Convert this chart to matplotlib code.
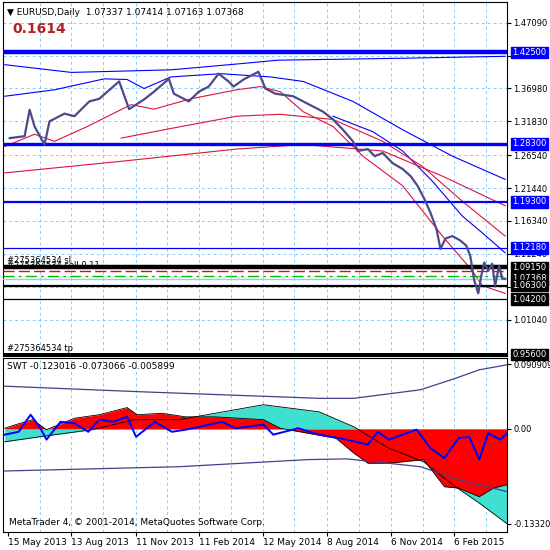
import matplotlib
matplotlib.use("Agg")
import matplotlib.pyplot as plt
from matplotlib.transforms import blended_transform_factory

# ---------------- data (x in bar-position units, 0..505) ----------------
price_x = [5, 20, 25, 30, 40, 45, 60, 70, 85, 95, 115, 125, 140, 150, 165, 170, 185, 195,
           205, 215, 225, 230, 240, 255, 262, 272, 290, 300, 310, 320, 330, 340, 350, 355,
           365, 372, 380, 390, 400, 408, 415, 422, 428, 434, 438, 443, 450, 458, 464, 468,
           472, 476, 479, 482, 486, 490, 493, 497, 500, 503]
price_y = [1.292, 1.295, 1.336, 1.310, 1.282, 1.318, 1.330, 1.326, 1.349, 1.353, 1.380, 1.337,
           1.352, 1.364, 1.384, 1.361, 1.349, 1.364, 1.372, 1.392, 1.380, 1.372, 1.383, 1.395,
           1.369, 1.361, 1.357, 1.349, 1.341, 1.333, 1.321, 1.305, 1.287, 1.272, 1.275, 1.264,
           1.269, 1.253, 1.244, 1.233, 1.218, 1.197, 1.176, 1.151, 1.120, 1.136, 1.140, 1.133,
           1.125, 1.109, 1.071, 1.051, 1.078, 1.099, 1.086, 1.097, 1.063, 1.094, 1.074, 1.0737]

blue_long_x = [0, 67, 167, 233, 275, 400, 503]
blue_long_y = [1.406, 1.394, 1.398, 1.407, 1.413, 1.416, 1.419]
blue_mid_x = [0, 50, 100, 123, 140, 167, 217, 267, 300, 350, 400, 450, 503]
blue_mid_y = [1.357, 1.367, 1.384, 1.383, 1.369, 1.387, 1.392, 1.387, 1.380, 1.349, 1.305, 1.264, 1.228]
blue_short_x = [330, 370, 400, 430, 460, 480, 503]
blue_short_y = [1.326, 1.302, 1.272, 1.225, 1.171, 1.145, 1.114]
red_mid_x = [0, 30, 50, 83, 127, 150, 187, 233, 257, 277, 300, 330, 360, 400, 440, 470, 480, 503]
red_mid_y = [1.279, 1.298, 1.287, 1.310, 1.344, 1.337, 1.353, 1.367, 1.372, 1.364, 1.333, 1.310, 1.264, 1.218, 1.140, 1.086, 1.063, 1.051]
red_long_x = [117, 167, 233, 277, 330, 380, 420, 460, 503]
red_long_y = [1.292, 1.307, 1.326, 1.329, 1.321, 1.287, 1.248, 1.194, 1.140]
red_lower_x = [0, 117, 233, 300, 380, 440, 503]
red_lower_y = [1.238, 1.256, 1.275, 1.282, 1.272, 1.233, 1.187]

# horizontal order / level lines
lv_blue = [1.4250, 1.2830, 1.1930, 1.1218]
lv_blue_w = [3.2, 2.4, 1.6, 0.9]
lv_black = [1.0915, 1.0630, 1.0420, 0.9560]
lv_black_w = [3.2, 1.6, 0.9, 3.6]
sell_level = 1.0862
green_level = 1.0785
bid = 1.07368

price_ticks = [1.4709, 1.4199, 1.3698, 1.3183, 1.2654, 1.2144, 1.1634, 1.1124, 1.0614, 1.0104]
price_labels = ["1.47090", "", "1.36980", "1.31830", "1.26540", "1.21440", "1.16340", "1.11240", "", "1.01040"]

# SWT indicator
swt_up_x = [0, 140, 316, 351, 418, 453, 477, 505]
swt_up_y = [0.060, 0.052, 0.043, 0.043, 0.055, 0.071, 0.083, 0.090]
swt_lo_x = [0, 175, 305, 344, 418, 456, 505]
swt_lo_y = [-0.059, -0.053, -0.043, -0.042, -0.053, -0.071, -0.088]
slow_x = [0, 35, 88, 130, 175, 260, 316, 351, 386, 421, 453, 477, 505]
slow_y = [-0.018, -0.011, -0.001, 0.013, 0.013, 0.034, 0.024, 0.003, -0.027, -0.046, -0.081, -0.104, -0.133]
fast_x = [0, 11, 28, 42, 70, 95, 123, 133, 158, 182, 211, 260, 277, 305, 333, 351, 365, 386,
          421, 442, 456, 477, 491, 505]
fast_y = [0.001, 0.006, 0.013, -0.001, 0.015, 0.020, 0.030, 0.020, 0.022, 0.017, 0.017, 0.013,
          0.001, -0.006, -0.013, -0.034, -0.048, -0.048, -0.043, -0.081, -0.083, -0.095, -0.083, -0.078]
osc_x = [0, 14, 26, 35, 42, 56, 70, 84, 95, 109, 123, 132, 151, 168, 182, 196, 218, 232, 260,
         270, 295, 316, 337, 365, 375, 386, 414, 428, 442, 456, 467, 477, 486, 498, 505]
osc_y = [-0.008, -0.004, 0.020, 0.003, -0.015, 0.010, 0.008, -0.004, 0.013, 0.010, 0.017, -0.011,
         0.010, -0.004, -0.001, 0.003, 0.010, 0.001, 0.006, -0.008, 0.001, -0.008, -0.013, -0.022,
         -0.004, -0.015, -0.001, -0.027, -0.041, -0.013, -0.011, -0.043, -0.006, -0.015, -0.006]

date_pos = [3, 67, 132, 195, 260, 324, 388, 452]
date_labels = ["15 May 2013", "13 Aug 2013", "11 Nov 2013", "11 Feb 2014",
               "12 May 2014", "8 Aug 2014", "6 Nov 2014", "6 Feb 2015"]
vgrid = [35, 67, 99, 132, 163, 195, 227, 260, 291, 324, 356, 388, 420, 452, 484]

GRID = "#87cefa"
fs = 6.0

fig = plt.figure(figsize=(5.5, 5.5), dpi=100)
ax = fig.add_axes([0.005, 0.353, 0.917, 0.643])
ax2 = fig.add_axes([0.005, 0.033, 0.917, 0.316], sharex=ax)

for a in (ax, ax2):
    a.set_xlim(-2, 505)
    for x in vgrid:
        a.axvline(x, color=GRID, ls=(0, (3, 3)), lw=0.7, zorder=0)
    a.yaxis.tick_right()
    a.tick_params(axis="y", labelsize=fs, length=3, pad=1.5)
    for s in a.spines.values():
        s.set_linewidth(0.8)

# ---------------- main price panel ----------------
ax.set_ylim(0.954, 1.503)
for y in price_ticks:
    ax.axhline(y, color=GRID, ls=(0, (3, 3)), lw=0.7, zorder=0)
ax.set_yticks(price_ticks)
ax.set_yticklabels(price_labels)
ax.tick_params(axis="x", bottom=False, labelbottom=False)

ax.plot(blue_long_x, blue_long_y, color="#0000ff", lw=0.8)
ax.plot(blue_mid_x, blue_mid_y, color="#0000ff", lw=0.8)
ax.plot(blue_short_x, blue_short_y, color="#0000ff", lw=0.8)
ax.plot(red_mid_x, red_mid_y, color="#dc143c", lw=0.8)
ax.plot(red_long_x, red_long_y, color="#dc143c", lw=0.8)
ax.plot(red_lower_x, red_lower_y, color="#dc143c", lw=0.8)
ax.plot(price_x, price_y, color="#4b4b8c", lw=1.6, zorder=4)

for y, w in zip(lv_blue, lv_blue_w):
    ax.axhline(y, color="#0000ff", lw=w, zorder=3)
for y, w in zip(lv_black, lv_black_w):
    ax.axhline(y, color="black", lw=w, zorder=3)
ax.axhline(sell_level, color="#ff0000", lw=1.0, ls=(0, (8, 3)), zorder=3)
ax.axhline(green_level, color="#00c000", lw=1.0, ls=(0, (8, 3, 2, 3)), zorder=3)
ax.axhline(bid, color="#87cefa", lw=1.0, zorder=3)

tr = blended_transform_factory(ax.transAxes, ax.transData)
boxes = [(1.4250, "1.42500", "#0000ff"), (1.2830, "1.28300", "#0000ff"),
         (1.1930, "1.19300", "#0000ff"), (1.1218, "1.12180", "#0000ff"),
         (1.0915, "1.09150", "black"), (1.07368, "1.07368", "black"),
         (1.0630, "1.06300", "black"), (1.0420, "1.04200", "black"),
         (0.9560, "0.95600", "black")]
for y, t, c in boxes:
    ax.text(1.01, y, t, transform=tr, fontsize=fs, color="white", va="center", ha="left",
            bbox=dict(boxstyle="square,pad=0.15", fc=c, ec=c), clip_on=False, zorder=6)

ax.text(0.008, 0.985, "▼ EURUSD,Daily  1.07337 1.07414 1.07163 1.07368",
        transform=ax.transAxes, fontsize=6.5, va="top")
ax.text(0.02, 0.945, "0.1614", transform=ax.transAxes, fontsize=10, fontweight="bold",
        color="#b22222", va="top")
ax.text(2, 1.0950, "#275364534 sl", fontsize=fs, va="bottom")
ax.text(2, 1.0870, "#275364534 sell 0.11", fontsize=fs, va="bottom")
ax.text(2, 0.9580, "#275364534 tp", fontsize=fs, va="bottom")

# ---------------- SWT panel ----------------
ax2.set_ylim(-0.1444, 0.0995)
ax2.set_yticks([0.090909, 0.0, -0.133203])
ax2.set_yticklabels(["0.090909", "0.00", "-0.133203"])
ax2.fill_between(slow_x, 0, slow_y, color="#40e0d0", lw=0)
ax2.fill_between(fast_x, 0, fast_y, color="#ff0000", lw=0)
ax2.plot(slow_x, slow_y, color="black", lw=0.6)
ax2.plot(fast_x, fast_y, color="black", lw=0.6)
ax2.plot(swt_up_x, swt_up_y, color="#483d8b", lw=0.9)
ax2.plot(swt_lo_x, swt_lo_y, color="#483d8b", lw=0.9)
ax2.plot(osc_x, osc_y, color="#0000ff", lw=1.4)
ax2.text(0.008, 0.975, "SWT -0.123016 -0.073066 -0.005899", transform=ax2.transAxes,
         fontsize=6.5, va="top")
ax2.text(0.012, 0.03, "MetaTrader 4, © 2001-2014, MetaQuotes Software Corp.",
         transform=ax2.transAxes, fontsize=6.5, va="bottom")

ax2.set_xticks(date_pos)
ax2.set_xticklabels(date_labels, ha="left")
ax2.tick_params(axis="x", labelsize=6.5, length=3, pad=1.5)

fig.savefig("out.png", dpi=100)
